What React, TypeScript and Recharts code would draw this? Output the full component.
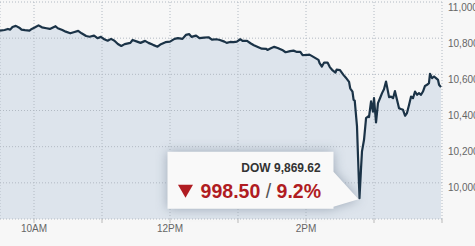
import React from 'react';
import { ComposedChart, Area, Line, XAxis, YAxis, CartesianGrid, ReferenceDot } from 'recharts';

// minutes since 9:30 open
const times = [
  0, 4, 7, 9, 11, 14, 17, 19, 22, 26, 28, 31, 34, 37, 41, 44, 49, 51, 55, 58,
  62, 65, 69, 72, 76, 79, 83, 86, 89, 92, 95, 98, 101, 104, 107, 110, 115, 117, 121, 124,
  128, 131, 135, 139, 142, 146, 150, 154, 157, 161, 164, 167, 169, 173, 176, 180, 184, 187, 191, 194,
  198, 200, 203, 206, 209, 212, 214, 218, 221, 224, 228, 231, 235, 236, 239, 242, 245, 249, 252, 256,
  259, 262, 265, 267, 270, 273, 275, 278, 281, 282, 284, 286, 289, 291, 293, 296, 297, 300, 303, 305,
  308, 309, 311, 312, 313, 315.0, 315.9, 317.2, 318.5, 319.4, 321.2, 323.0, 324.7, 325.6, 327.4, 328.2,
  329.1, 330.0, 331.8, 333.5, 335.3, 337.1, 338.8, 340.6, 341.5, 343.3, 345.0, 346.8, 348.5, 350.3, 352.1,
  353.8, 355.6, 357.4, 359.1, 360.9, 362.7, 364.4, 366.2, 368.0, 369.7, 371.5, 373.2, 375.0, 376.8, 378.5,
  379.4, 381.2, 383.0, 384.7, 386.5, 387.4, 389.1,
];

const dow = [
  10842, 10845, 10851, 10847, 10862, 10868, 10858, 10847, 10844, 10842, 10851, 10860, 10871, 10860, 10855, 10851, 10866, 10855, 10845, 10836,
  10827, 10833, 10840, 10827, 10812, 10808, 10814, 10800, 10807, 10794, 10786, 10796, 10786, 10768, 10757, 10767, 10774, 10790, 10781, 10774,
  10785, 10774, 10763, 10753, 10767, 10778, 10781, 10796, 10800, 10796, 10818, 10822, 10807, 10814, 10800, 10803, 10805, 10792, 10794, 10790,
  10781, 10774, 10779, 10778, 10781, 10794, 10785, 10785, 10772, 10761, 10750, 10742, 10741, 10735, 10744, 10752, 10746, 10735, 10722, 10728,
  10731, 10724, 10724, 10706, 10707, 10709, 10702, 10691, 10680, 10662, 10643, 10665, 10665, 10640, 10625, 10610, 10626, 10623, 10597, 10583,
  10558, 10523, 10505, 10459, 10455, 10312, 10146, 9915, 10073, 10174, 10238, 10358, 10367, 10364, 10450, 10422,
  10394, 10468, 10334, 10441, 10468, 10496, 10518, 10560, 10532, 10474, 10477, 10468, 10507, 10459, 10413,
  10408, 10404, 10371, 10386, 10431, 10477, 10468, 10505, 10487, 10496, 10487, 10505, 10536, 10542, 10551,
  10603, 10579, 10588, 10579, 10569, 10542, 10529,
];

const xTicks = [30, 90, 150, 210, 270, 330, 390];
const xTickLabels = ['10AM', '', '12PM', '', '2PM', '', ''];
const yTicks = [9800, 10000, 10200, 10400, 10600, 10800, 11000];
const yTickLabels = ['', '10,000', '10,200', '10,400', '10,600', '10,800', '11,000'];

const calloutIndex = 'DOW';
const calloutLevel = '9,869.62';
const calloutPoints = '998.50';
const calloutPct = '9.2%';

const data = times.map((t, i) => ({ t, v: dow[i] }));
const lowIdx = dow.indexOf(Math.min(...dow));

const FONT = '"Liberation Sans", Arial, Helvetica, sans-serif';

const XTick = (props: any) => {
  const { x, y, payload } = props;
  const i = xTicks.indexOf(payload.value);
  const label = i >= 0 ? xTickLabels[i] : '';
  if (!label) return <g />;
  return (
    <text x={x} y={y} dy={7} textAnchor="middle" fontSize={10} fontFamily={FONT} fill="#666">
      {label}
    </text>
  );
};

const YTick = (props: any) => {
  const { x, y, payload } = props;
  const i = yTicks.indexOf(payload.value);
  const label = i >= 0 ? yTickLabels[i] : '';
  if (!label) return <g />;
  return (
    <text x={x} y={y} dy={8.6} textAnchor="start" fontSize={10} fontFamily={FONT} fill="#666">
      {label}
    </text>
  );
};

const Callout = (props: any) => {
  const { cx, cy } = props;
  if (cx == null || cy == null) return <g />;
  const L = cx - 192;
  const R = cx - 26;
  const T = cy - 46.5;
  const B = cy + 10.5;
  const d = `M${L},${T} L${R},${T} L${R},${cy - 26.5} L${cx - 1},${cy + 1} L${R},${cy + 8.5} L${R},${B} L${L},${B} Z`;
  return (
    <g>
      <defs>
        <filter id="calloutGlow" x="-30%" y="-80%" width="160%" height="260%">
          <feGaussianBlur stdDeviation="6" />
        </filter>
      </defs>
      <path d={d} fill="#8a98a8" opacity={0.8} filter="url(#calloutGlow)" />
      <path d={d} fill="#f9f9f9" />
      <text x={cx - 38.8} y={cy - 26.2} textAnchor="end" fontSize={12} fontWeight="bold" fontFamily={FONT} fill="#333">
        {`${calloutIndex} ${calloutLevel}`}
      </text>
      <path d={`M${cx - 181.5},${cy - 13.5} L${cx - 166.5},${cy - 13.5} L${cx - 174},${cy - 0.5} Z`} fill="#b01c22" />
      <text x={cx - 38.5} y={cy - 0.2} textAnchor="end" fontSize={19.5} fontFamily={FONT}>
        <tspan fill="#b01c22" fontWeight="bold">{calloutPoints}</tspan>
        <tspan fill="#555"> / </tspan>
        <tspan fill="#b01c22" fontWeight="bold">{calloutPct}</tspan>
      </text>
    </g>
  );
};

export default function App() {
  return (
    <div style={{ position: 'absolute', left: 0, top: 0, width: 475, height: 246, background: '#f7f7f7' }}>
      <ComposedChart width={475} height={246} data={data} margin={{ top: 2, right: 0, bottom: 0, left: 0 }}>
        <XAxis
          dataKey="t"
          type="number"
          domain={[0, 390]}
          ticks={xTicks}
          interval={0}
          axisLine={false}
          tickSize={4}
          tickMargin={2}
          tickLine={{ stroke: '#b9b9b9' }}
          tick={<XTick />}
          height={27}
        />
        <YAxis
          orientation="right"
          type="number"
          domain={[9800, 11000]}
          ticks={yTicks}
          interval={0}
          axisLine={false}
          tickLine={false}
          tickSize={0}
          tickMargin={6}
          tick={<YTick />}
          width={33}
        />
        <Area
          type="linear"
          dataKey="v"
          stroke="none"
          fill="#c9d6e3"
          fillOpacity={0.55}
          isAnimationActive={false}
          dot={false}
          activeDot={false}
          {...({ zIndex: 100 } as any)}
        />
        <CartesianGrid stroke="#b2bac3" strokeDasharray="1 2" {...({ zIndex: 200 } as any)} />
        <Line
          type="linear"
          dataKey="v"
          stroke="#1b3347"
          strokeWidth={2.2}
          strokeLinejoin="round"
          dot={false}
          activeDot={false}
          isAnimationActive={false}
          {...({ zIndex: 300 } as any)}
        />
        <ReferenceDot
          x={times[lowIdx]}
          y={dow[lowIdx]}
          ifOverflow="visible"
          shape={<Callout />}
          {...({ zIndex: 400 } as any)}
        />
      </ComposedChart>
    </div>
  );
}
